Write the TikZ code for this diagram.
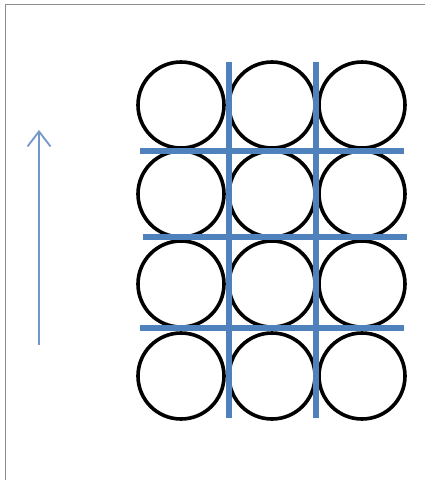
\documentclass[tikz,border=0pt]{standalone}
\usepackage{tikz}
\usetikzlibrary{arrows.meta}
\definecolor{gridblue}{HTML}{4F81BD}
\definecolor{arrowblue}{HTML}{7297C8}
\definecolor{frame}{HTML}{8C8C8C}

\begin{document}
\begin{tikzpicture}[x=1pt, y=-1pt,
   ball/.style={circle, draw=black, line width=3.6pt, minimum size=86pt,
     inner sep=0pt},
   cut/.style={draw=gridblue, line width=6pt},
   up/.style={-{Straight Barb[length=15pt, width=23pt, line width=1.8pt]},
     draw=arrowblue, line width=1.8pt}]
 \useasboundingbox (0,0) rectangle (425,480);
 \draw[frame, line width=1pt] (5,480) -- (5,4.5) -- (425,4.5);
 % packed spheres, 3 x 4
 \foreach \r/\y in {1/105, 2/194, 3/284, 4/376}
   \foreach \c/\x in {1/181, 2/272, 3/362}
     \node[ball] (b\r\c) at (\x,\y) {};
 % cutting planes
 \draw[cut] (229,62) -- (229,418);
 \draw[cut] (316,62) -- (316,418);
 \draw[cut] (140,151) -- (404,151);
 \draw[cut] (143,237) -- (407,237);
 \draw[cut] (140,328) -- (404,328);
 % direction
 \coordinate (tail) at (39,345);
 \coordinate (tip) at (39,130);
 \draw[up] (tail) -- (tip);
\end{tikzpicture}
\end{document}
